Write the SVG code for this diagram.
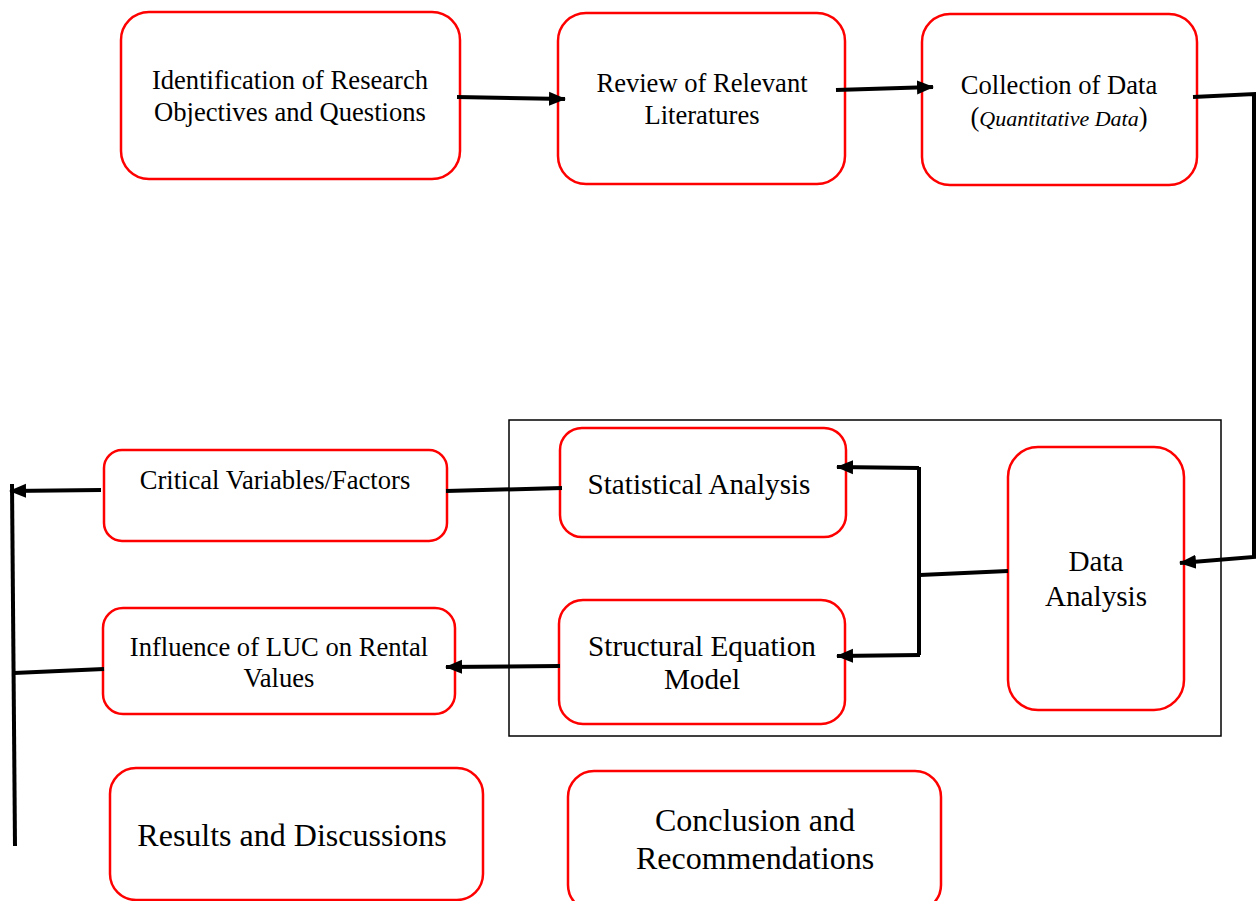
<svg xmlns="http://www.w3.org/2000/svg" width="1258" height="901" viewBox="0 0 1258 901">
<style>
.box{fill:#fff;stroke:#ff0000;stroke-width:2.5}
.t{font-family:"Liberation Serif","Times New Roman",serif;fill:#000;text-anchor:middle}
.s22{font-size:26.6px}
.s24{font-size:29.2px}
.s28{font-size:32px}
.c{fill:none;stroke:#000;stroke-width:4}
</style>
<defs>
<marker id="ah" markerUnits="userSpaceOnUse" markerWidth="18" markerHeight="16" refX="16" refY="8" orient="auto">
<path d="M0,1 L17,8 L0,15 Z" fill="#000"/>
</marker>
</defs>
<rect x="0" y="0" width="1258" height="901" fill="#fff"/>
<g id="frame"><rect x="509" y="420" width="712" height="316" fill="none" stroke="#000" stroke-width="1.5"/></g>
<g id="n1"><rect class="box" x="121" y="12" width="339" height="167" rx="28"/>
<text class="t s22" x="290" y="89">Identification of Research</text>
<text class="t s22" x="290" y="121">Objectives and Questions</text></g>
<g id="n2"><rect class="box" x="558" y="13" width="287" height="171" rx="28"/>
<text class="t s22" x="702" y="92">Review of Relevant</text>
<text class="t s22" x="702" y="124">Literatures</text></g>
<g id="n3"><rect class="box" x="922" y="14" width="275" height="171" rx="28"/>
<text class="t s22" x="1059" y="94">Collection of Data</text>
<text class="t s22" x="1059" y="126">(<tspan font-style="italic" font-size="22">Quantitative Data</tspan>)</text></g>
<g id="n4"><rect class="box" x="1008" y="447" width="176" height="263" rx="30"/>
<text class="t s24" x="1096" y="571">Data</text>
<text class="t s24" x="1096" y="606">Analysis</text></g>
<g id="n5"><rect class="box" x="560" y="428" width="286" height="109" rx="22"/>
<text class="t s24" x="699" y="494">Statistical Analysis</text></g>
<g id="n6"><rect class="box" x="559" y="600" width="286" height="124" rx="24"/>
<text class="t s24" x="702" y="656">Structural Equation</text>
<text class="t s24" x="702" y="689">Model</text></g>
<g id="n7"><rect class="box" x="104" y="450" width="343" height="91" rx="18"/>
<text class="t s22" x="275" y="489">Critical Variables/Factors</text></g>
<g id="n8"><rect class="box" x="103" y="608" width="352" height="106" rx="20"/>
<text class="t s22" x="279" y="656">Influence of LUC on Rental</text>
<text class="t s22" x="279" y="687">Values</text></g>
<g id="n9"><rect class="box" x="110" y="768" width="373" height="132" rx="26"/>
<text class="t s28" x="292" y="846">Results and Discussions</text></g>
<g id="n10"><rect class="box" x="568" y="771" width="373" height="140" rx="26"/>
<text class="t s28" x="755" y="831">Conclusion and</text>
<text class="t s28" x="755" y="869">Recommendations</text></g>
<g id="connectors">
<path class="c" d="M457,97 L565,99" marker-end="url(#ah)"/>
<path class="c" d="M836,90 L933,87" marker-end="url(#ah)"/>
<path class="c" d="M1193,97 L1254,94 L1254,557 L1180,563" marker-end="url(#ah)"/>
<path class="c" d="M1008,571 L920,575"/>
<path class="c" d="M919,467 L919,655"/>
<path class="c" d="M919,468 L837,467" marker-end="url(#ah)"/>
<path class="c" d="M920,655 L837,656" marker-end="url(#ah)"/>
<path class="c" d="M562,488 L446,491"/>
<path class="c" d="M101,490 L10,491" marker-end="url(#ah)"/>
<path class="c" d="M12,484 L15,846"/>
<path class="c" d="M104,669 L14,673"/>
<path class="c" d="M560,666 L446,667" marker-end="url(#ah)"/>
</g>
</svg>
